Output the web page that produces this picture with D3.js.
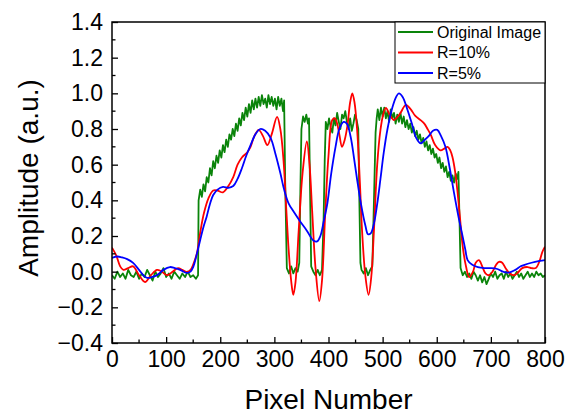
<!DOCTYPE html>
<html><head><meta charset="utf-8">
<script src="https://cdn.jsdelivr.net/npm/d3@7"></script>
<style>body{margin:0;background:#fff}svg{display:block}text{font-family:"Liberation Sans",Arial,sans-serif}</style>
</head><body><svg id="c" width="566" height="414"></svg>
<script>
const xTicks=[0,100,200,300,400,500,600,700,800];
const yTicks=[-0.4,-0.2,0.0,0.2,0.4,0.6,0.8,1.0,1.2,1.4];
const seriesNames=["Original Image","R=10%","R=5%"];
const originalX=[0,5,10,15,20,25,30,35,40,45,50,55,60,65,70,75,80,85,90,95,100,105,110,115,120,125,130,135,140,145,150,155,159,
 160,163,166,169,172,175,178,181,184,187,190,193,196,199,202,205,208,211,214,217,220,223,226,229,232,235,238,241,244,247,250,253,256,259,262,265,268,271,274,277,280,283,286,289,292,295,298,301,304,307,310,313,316,318,
 320,323,327,331,335,339,343,346,348,350,353,356,359,362,364,366,368,372,376,380,384,388,391,393,395,398,401,404,407,410,413,416,419,422,425,428,431,434,437,440,443,446,449,452,455,457,459,461,465,469,473,477,481,484,487,489,491,494,497,
 500,503,506,509,512,515,518,521,524,527,530,533,536,539,542,545,548,551,554,557,560,563,566,569,572,575,578,581,584,587,590,593,596,599,602,605,608,611,614,617,620,623,626,629,632,635,638,640,642,644,
 648,652,656,660,664,668,672,676,680,684,688,692,696,700,704,708,712,716,720,724,728,732,736,740,744,748,752,756,760,764,768,772,776,780,784,788,792,796,800];
const originalY=[-0.02,-0.04,0.0,-0.03,-0.01,-0.04,0.01,-0.02,-0.03,0.0,-0.04,-0.01,-0.03,0.01,-0.02,-0.05,0.0,-0.03,-0.01,0.02,-0.03,-0.01,-0.04,0.0,-0.02,-0.04,-0.01,-0.03,0.0,-0.03,-0.02,-0.04,-0.02,
 0.40,0.46,0.42,0.49,0.45,0.53,0.50,0.58,0.54,0.62,0.58,0.65,0.61,0.68,0.64,0.71,0.67,0.74,0.70,0.77,0.74,0.80,0.76,0.83,0.79,0.86,0.82,0.89,0.85,0.92,0.87,0.94,0.89,0.96,0.91,0.97,0.92,0.98,0.93,0.99,0.94,0.97,0.92,0.99,0.94,0.98,0.93,0.97,0.91,0.98,0.93,0.97,0.90,0.96,
 0.50,0.02,-0.01,0.03,-0.01,0.02,0.0,0.05,0.45,0.80,0.87,0.84,0.88,0.83,0.86,0.45,0.03,0.0,-0.02,0.01,-0.02,0.01,0.30,0.62,0.84,0.80,0.86,0.81,0.78,0.86,0.82,0.89,0.84,0.80,0.88,0.86,0.90,0.84,0.80,0.86,0.79,0.83,0.88,0.85,0.80,0.40,0.05,0.01,-0.01,0.02,-0.02,0.01,0.03,0.40,0.78,0.86,0.91,0.85,0.92,
 0.87,0.92,0.86,0.90,0.84,0.91,0.86,0.89,0.83,0.88,0.84,0.89,0.83,0.87,0.81,0.85,0.80,0.83,0.78,0.81,0.76,0.79,0.74,0.77,0.72,0.75,0.70,0.73,0.68,0.71,0.66,0.69,0.64,0.66,0.61,0.64,0.58,0.61,0.56,0.59,0.53,0.56,0.51,0.54,0.50,0.55,0.52,0.56,0.30,0.02,
 -0.02,0.0,-0.03,-0.01,-0.04,0.0,-0.02,-0.05,-0.02,-0.06,-0.03,-0.07,-0.04,-0.01,-0.03,0.0,-0.04,-0.02,-0.01,-0.04,0.0,-0.03,-0.01,-0.04,-0.02,0.0,-0.03,-0.01,-0.04,-0.02,0.0,-0.03,-0.01,-0.03,0.0,-0.02,-0.01,-0.03,-0.02];
const r10X=[0,8,15,21,30,39,50,61,72,83,92,102,112,122,130,138,145,150,157,163,170,178,187,195,205,215,224,232,240,250,256,263,271,279,287,295,305,311,317,322,326,331,335,339,345,352,360,365,370,376,383,388,394,400,407,412,416,420,425,430,435,440,444,448,453,458,462,468,474,479,484,490,496,501,506,513,521,528,533,543,552,560,570,577,583,589,597,607,614,620,625,629,634,638,643,648,654,660,667,672,678,684,690,696,703,710,715,721,727,735,743,750,758,768,775,783,790,795,800];
const r10Y=[0.135,0.09,0.03,0.01,0.02,0.03,-0.02,-0.058,-0.02,0.01,0.0,-0.02,0.0,0.02,0.01,-0.002,0.01,0.04,0.105,0.22,0.33,0.41,0.455,0.455,0.445,0.48,0.53,0.6,0.64,0.67,0.70,0.76,0.795,0.76,0.71,0.77,0.868,0.8,0.62,0.35,0.14,-0.05,-0.13,-0.06,0.234,0.55,0.73,0.6,0.33,0.02,-0.165,-0.05,0.33,0.65,0.85,0.86,0.83,0.77,0.70,0.74,0.82,0.95,1.0,0.95,0.79,0.5,0.23,-0.02,-0.13,-0.03,0.234,0.6,0.795,0.88,0.918,0.88,0.85,0.87,0.89,0.935,0.91,0.875,0.85,0.83,0.80,0.767,0.71,0.68,0.69,0.70,0.68,0.643,0.56,0.458,0.3,0.14,0.03,-0.03,0.0,0.05,0.065,0.03,-0.01,-0.02,0.0,0.04,0.055,0.05,0.02,-0.01,-0.02,-0.005,0.02,0.026,0.02,0.02,0.06,0.11,0.14];
const r5X=[0,10,18,28,39,50,58,65,74,83,95,107,116,126,138,145,150,156,163,169,175,181,187,195,205,215,224,232,240,248,256,265,274,283,293,302,311,318,326,337,348,360,372,379,385,391,398,405,413,420,428,434,441,447,453,460,468,473,478,484,490,496,502,509,518,525,530,537,546,555,562,570,578,585,593,601,608,616,624,632,640,648,653,657,665,676,688,700,712,722,733,745,755,761,775,790,800];
const r5Y=[0.077,0.085,0.08,0.07,0.049,0.01,-0.02,-0.035,-0.03,-0.02,0.01,0.026,0.02,0.01,-0.007,0.0,0.026,0.09,0.178,0.25,0.31,0.38,0.43,0.46,0.475,0.47,0.48,0.52,0.58,0.65,0.71,0.77,0.80,0.79,0.75,0.66,0.553,0.46,0.385,0.33,0.28,0.23,0.175,0.17,0.20,0.28,0.385,0.55,0.70,0.80,0.84,0.83,0.755,0.64,0.514,0.38,0.26,0.21,0.215,0.27,0.38,0.52,0.666,0.80,0.92,0.98,1.0,0.98,0.907,0.82,0.75,0.72,0.74,0.76,0.79,0.795,0.76,0.70,0.58,0.44,0.31,0.195,0.12,0.065,0.04,0.025,0.02,0.02,0.015,0.0,-0.005,0.01,0.03,0.037,0.05,0.06,0.065];
const colors=["#0a840a","#ff0000","#0000ff"];

const svg=d3.select("#c");
const m={l:112,r:545,t:22,b:343};
const x=d3.scaleLinear().domain([0,800]).range([m.l,m.r]);
const y=d3.scaleLinear().domain([-0.4,1.4]).range([m.b,m.t]);

svg.append("clipPath").attr("id","cl").append("rect").attr("x",m.l).attr("y",m.t).attr("width",m.r-m.l).attr("height",m.b-m.t);
const g=svg.append("g").attr("clip-path","url(#cl)");
const lin=d3.line().x(d=>x(d[0])).y(d=>y(d[1]));
const smooth=d3.line().x(d=>x(d[0])).y(d=>y(d[1])).curve(d3.curveCatmullRom.alpha(0.5));
const series=[[originalX,originalY,lin],[r10X,r10Y,smooth],[r5X,r5Y,smooth]];
series.forEach((s,i)=>{
  const pts=s[0].map((v,k)=>[v,s[1][k]]);
  g.append("path").attr("d",s[2](pts)).attr("fill","none").attr("stroke",colors[i]).attr("stroke-width",1.8).attr("stroke-linejoin","round");
});

svg.append("rect").attr("x",m.l).attr("y",m.t).attr("width",m.r-m.l).attr("height",m.b-m.t).attr("fill","none").attr("stroke","#000").attr("stroke-width",1.5);

const xAxis=d3.axisBottom(x).tickValues(xTicks).tickSizeInner(-6).tickSizeOuter(0).tickPadding(10).tickFormat(d3.format("d"));
const gx=svg.append("g").attr("transform",`translate(0,${m.b})`).call(xAxis);
const yAxis=d3.axisLeft(y).tickValues(yTicks).tickSizeInner(-6).tickSizeOuter(0).tickPadding(9).tickFormat(d3.format(".1f"));
const gy=svg.append("g").attr("transform",`translate(${m.l},0)`).call(yAxis);
[gx,gy].forEach(a=>{a.select(".domain").remove();a.selectAll("line").attr("stroke","#000").attr("stroke-width",1.3);a.selectAll("text").attr("font-size",23).attr("fill","#000").attr("font-family","'Liberation Sans',Arial,sans-serif");});
gx.selectAll("text").attr("y",24).attr("dy",0);
const xMinor=d3.range(50,800,100);
svg.append("g").selectAll("line").data(xMinor).join("line").attr("x1",d=>x(d)).attr("x2",d=>x(d)).attr("y1",m.b).attr("y2",m.b-3.5).attr("stroke","#000").attr("stroke-width",1.3);
const yMinor=d3.range(-0.3,1.4,0.2);
svg.append("g").selectAll("line").data(yMinor).join("line").attr("x1",m.l).attr("x2",m.l+3.5).attr("y1",d=>y(d)).attr("y2",d=>y(d)).attr("stroke","#000").attr("stroke-width",1.3);

svg.append("text").attr("x",(m.l+m.r)/2).attr("y",409).attr("text-anchor","middle").attr("font-size",28).text("Pixel Number");
svg.append("text").attr("transform","translate(38,178) rotate(-90)").attr("text-anchor","middle").attr("font-size",28).text("Amplitude (a.u.)");

const lg=svg.append("g");
lg.append("rect").attr("x",395).attr("y",m.t).attr("width",m.r-395).attr("height",61).attr("fill","#fff").attr("stroke","#000").attr("stroke-width",1);
seriesNames.forEach((n,i)=>{
  const yy=m.t+10+i*20.5;
  lg.append("line").attr("x1",398).attr("x2",433).attr("y1",yy).attr("y2",yy).attr("stroke",colors[i]).attr("stroke-width",1.8);
  lg.append("text").attr("x",437).attr("y",yy).attr("dy","0.35em").attr("font-size",16).text(n);
});
</script></body></html>
